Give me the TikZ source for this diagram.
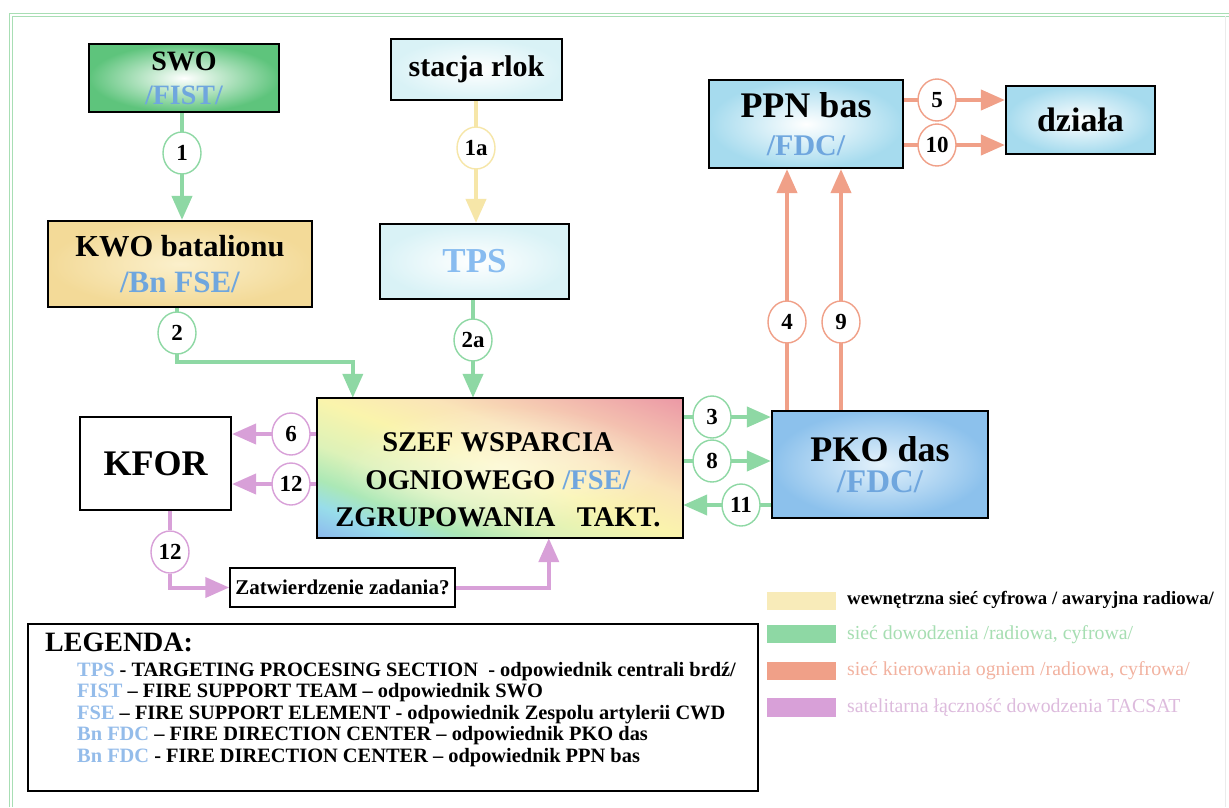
\documentclass[tikz,border=0pt]{standalone}
\usepackage{fontspec}
\setmainfont{Liberation Serif}
\usetikzlibrary{arrows.meta,calc,shapes.geometric,fadings}
\pgfdeclarelayer{bg}
\pgfsetlayers{bg,main}
\newcommand\fsz[1]{\fontsize{#1}{#1}\selectfont}

% line colours of the four networks
\definecolor{lnGreen}{HTML}{8ED8A4}
\definecolor{lnYellow}{HTML}{F6E6A8}
\definecolor{lnRed}{HTML}{F0A088}
\definecolor{lnPurple}{HTML}{D8A0D8}
% text and fills
\definecolor{txBlue}{HTML}{6FA6DE}
\definecolor{tpsBlue}{HTML}{88BCF0}
\definecolor{abbrBlue}{HTML}{94BCEA}
\definecolor{frameGreen}{HTML}{A8DEB4}
\definecolor{swoGreen}{HTML}{5EC47C}
\definecolor{kwoOut}{HTML}{F3DA98}
\definecolor{kwoIn}{HTML}{FBF0CC}
\definecolor{paleCyan}{HTML}{D9F2F6}
\definecolor{ppnOut}{HTML}{A6DBEE}
\definecolor{pkoOut}{HTML}{8CC1EC}
\definecolor{pkoIn}{HTML}{E4F2FB}
\definecolor{txGreen}{HTML}{A6DEB2}
\definecolor{txRed}{HTML}{F2B2A0}
\definecolor{txPurple}{HTML}{DDBBDD}
% rainbow fill of the central box
\definecolor{rbBlue}{HTML}{8AB2EE}
\definecolor{rbCyan}{HTML}{98DDEA}
\definecolor{rbGreen}{HTML}{ABE8B6}
\definecolor{rbLime}{HTML}{DDF2B8}
\definecolor{rbYellow}{HTML}{FAF4AC}
\definecolor{rbPeachA}{HTML}{FAE4B8}
\definecolor{rbPeachB}{HTML}{F4C2B0}
\definecolor{rbRed}{HTML}{EC9AA6}
\pgfdeclarehorizontalshading{rainbow}{100bp}{color(0bp)=(rbBlue); color(33bp)=(rbBlue); color(37.5bp)=(rbCyan); color(40.5bp)=(rbGreen); color(44.5bp)=(rbLime); color(50bp)=(rbYellow); color(55bp)=(rbPeachA); color(60bp)=(rbPeachB); color(66bp)=(rbRed); color(100bp)=(rbRed)}
\tikzfading[name=centerglow, inner color=transparent!45, outer color=transparent!100]

\begin{document}
\begin{tikzpicture}[x=1pt,y=-1pt,
  box/.style={draw=black, line width=2.2pt, inner sep=0pt, align=center},
  num/.style={ellipse, draw=#1, line width=1.4pt, fill=white, minimum width=38pt,
    minimum height=42pt, inner sep=0pt, font=\fsz{23}\bfseries},
  conn/.style={draw=#1, line width=4pt, -{Triangle[width=20pt,length=24pt]}},
  swatch/.style={fill=#1, draw=none},
  legtext/.style={anchor=west, inner sep=0pt, font=\fsz{19.8}}]
\useasboundingbox (0,0) rectangle (1229,807);

% outer frame
\draw[frameGreen, line width=1pt] (9,807) -- (9,13) -- (1229,13);
\draw[frameGreen, line width=1pt] (12,807) -- (12,16) -- (1229,16);
\draw[black!8, line width=1pt] (1225,16) -- (1225,807);

% boxes
\node[box, minimum width=190pt, minimum height=68pt, inner color=white, outer color=swoGreen,
  font=\fontsize{28}{34}\selectfont\bfseries] (swo) at (184,78) {SWO\\{\color{txBlue}/FIST/}};
\node[box, minimum width=171pt, minimum height=61pt, inner color=white, outer color=paleCyan,
  font=\fsz{30}\bfseries] (rlok) at (476.5,69.5) {stacja rlok};
\node[box, minimum width=264pt, minimum height=86pt, inner color=kwoIn, outer color=kwoOut,
  font=\fontsize{30.5}{35.5}\selectfont\bfseries] (kwo) at (180,264) {KWO batalionu\\{\fsz{31}\color{txBlue}/Bn FSE/}};
\node[box, minimum width=189pt, minimum height=75pt, inner color=white, outer color=paleCyan,
  font=\fsz{35}\bfseries] (tps) at (474.5,261.5) {\color{tpsBlue}TPS};
\node[box, minimum width=194pt, minimum height=88pt, inner color=white, outer color=ppnOut,
  font=\fontsize{36}{38}\selectfont\bfseries] (ppn) at (806,124) {PPN bas\\{\fsz{30}\color{txBlue}/FDC/}};
\node[box, minimum width=149pt, minimum height=68pt, inner color=white, outer color=ppnOut,
  font=\fsz{34}\bfseries] (dzialy) at (1080.5,120) {działa};

% central box: diagonal rainbow fill with a pale centre
\node[minimum width=366pt, minimum height=140pt, inner sep=0pt] (szef) at (500,468) {};
\begin{scope}
  \clip (szef.south west) rectangle (szef.north east);
  \shade[shading=rainbow, transform canvas={rotate around={69:(szef.center)}}]
    ($(szef.center)+(-200,-200)$) rectangle ($(szef.center)+(200,200)$);
  \fill[white, path fading=centerglow] (szef.center) ellipse [x radius=165, y radius=62];
\end{scope}
\draw[black, line width=2.2pt] (szef.south west) rectangle (szef.north east);
\node[align=center, inner sep=0pt, font=\fontsize{28.5}{37.5}\selectfont\bfseries] (szeftxt) at (498,480)
  {SZEF WSPARCIA\\OGNIOWEGO {\color{txBlue}/FSE/}\\ZGRUPOWANIA\hspace{0.5em} TAKT.};

\node[box, minimum width=151pt, minimum height=93pt, fill=white, font=\fsz{36}\bfseries] (kfor) at (155.5,463.5) {KFOR};
\node[box, minimum width=216pt, minimum height=107pt, inner color=pkoIn, outer color=pkoOut,
  font=\fontsize{36}{31}\selectfont\bfseries] (pko) at (880,464.5) {PKO das\\{\fsz{33}\color{txBlue}/FDC/}};
\node[box, line width=1.5pt, minimum width=225pt, minimum height=39pt, fill=white,
  font=\fsz{21}\bfseries] (zatw) at (342.5,587.5) {Zatwierdzenie zadania?};

% numbered markers on the links
\node[num=lnGreen] (c1) at (182,153) {1};
\node[num=lnYellow] (c1a) at (476,148) {1a};
\node[num=lnGreen] (c2) at (177,333) {2};
\node[num=lnGreen] (c2a) at (473,340) {2a};
\node[num=lnGreen] (c3) at (712,417) {3};
\node[num=lnGreen] (c8) at (712,461) {8};
\node[num=lnGreen] (c11) at (741,505) {11};
\node[num=lnRed] (c4) at (787,322) {4};
\node[num=lnRed] (c9) at (841,322) {9};
\node[num=lnRed] (c5) at (937,100) {5};
\node[num=lnRed] (c10) at (937,145) {10};
\node[num=lnPurple] (c6) at (291,434) {6};
\node[num=lnPurple] (c12a) at (291,484) {12};
\node[num=lnPurple] (c12b) at (170,552) {12};

% links, drawn beneath boxes and markers
\begin{pgfonlayer}{bg}
\fill[white] (0,0) rectangle (1229,807);
\draw[conn=lnGreen] (swo.south -| c1) -- (kwo.north -| c1);
\draw[conn=lnYellow] (rlok.south -| c1a) -- (tps.north -| c1a);
\draw[conn=lnGreen] (kwo.south -| c2) -- ($(c2)+(0,29)$) -| ($(szef.north west)+(36,0)$);
\draw[conn=lnGreen] (tps.south -| c2a) -- (szef.north -| c2a);
\draw[conn=lnGreen] (szef.east |- c3) -- (pko.west |- c3);
\draw[conn=lnGreen] (szef.east |- c8) -- (pko.west |- c8);
\draw[conn=lnGreen] (pko.west |- c11) -- (szef.east |- c11);
\draw[conn=lnRed] (pko.north -| c4) -- (ppn.south -| c4);
\draw[conn=lnRed] (pko.north -| c9) -- (ppn.south -| c9);
\draw[conn=lnRed] (ppn.east |- c5) -- (dzialy.west |- c5);
\draw[conn=lnRed] (ppn.east |- c10) -- (dzialy.west |- c10);
\draw[conn=lnPurple] (szef.west |- c6) -- (kfor.east |- c6);
\draw[conn=lnPurple] (szef.west |- c12a) -- (kfor.east |- c12a);
\draw[conn=lnPurple] (kfor.south -| c12b) -- (c12b) |- (zatw.west);
\draw[conn=lnPurple] (zatw.east) -| ($(szef.south west)+(232,0)$);
\end{pgfonlayer}

% abbreviations
\node[draw=black, line width=2pt, fill=white, minimum width=730pt, minimum height=167pt, inner sep=0pt] (legend) at (393,707.5) {};
\node[anchor=west, inner sep=0pt, font=\fsz{28}\bfseries] (legtitle) at (45,642) {LEGENDA:};
\begin{scope}[every node/.style={anchor=base west, inner sep=0pt, font=\fsz{20.4}\bfseries}]
\node (ab1) at (77,676) {{\color{abbrBlue}TPS} - TARGETING PROCESING SECTION\ \ - odpowiednik centrali brdź/};
\node (ab2) at (77,697) {{\color{abbrBlue}FIST} – FIRE SUPPORT TEAM – odpowiednik SWO};
\node (ab3) at (77,719) {{\color{abbrBlue}FSE} – FIRE SUPPORT ELEMENT - odpowiednik Zespolu artylerii CWD};
\node (ab4) at (77,740) {{\color{abbrBlue}Bn FDC} – FIRE DIRECTION CENTER – odpowiednik PKO das};
\node (ab5) at (77,762) {{\color{abbrBlue}Bn FDC} - FIRE DIRECTION CENTER – odpowiednik PPN bas};
\end{scope}

% network key
\fill[swatch=lnYellow!80] (767,592) rectangle (836,610);
\fill[swatch=lnGreen] (767,625) rectangle (836,643);
\fill[swatch=lnRed] (767,662) rectangle (836,680);
\fill[swatch=lnPurple] (767,698) rectangle (836,717);
\node[legtext, font=\fsz{18.8}\bfseries] (k1) at (847,600) {wewnętrzna sieć cyfrowa / awaryjna radiowa/};
\node[legtext, text=txGreen] (k2) at (847,635) {sieć dowodzenia /radiowa, cyfrowa/};
\node[legtext, text=txRed] (k3) at (847,671) {sieć kierowania ogniem /radiowa, cyfrowa/};
\node[legtext, text=txPurple] (k4) at (847,708) {satelitarna łączność dowodzenia TACSAT};
\end{tikzpicture}
\end{document}
